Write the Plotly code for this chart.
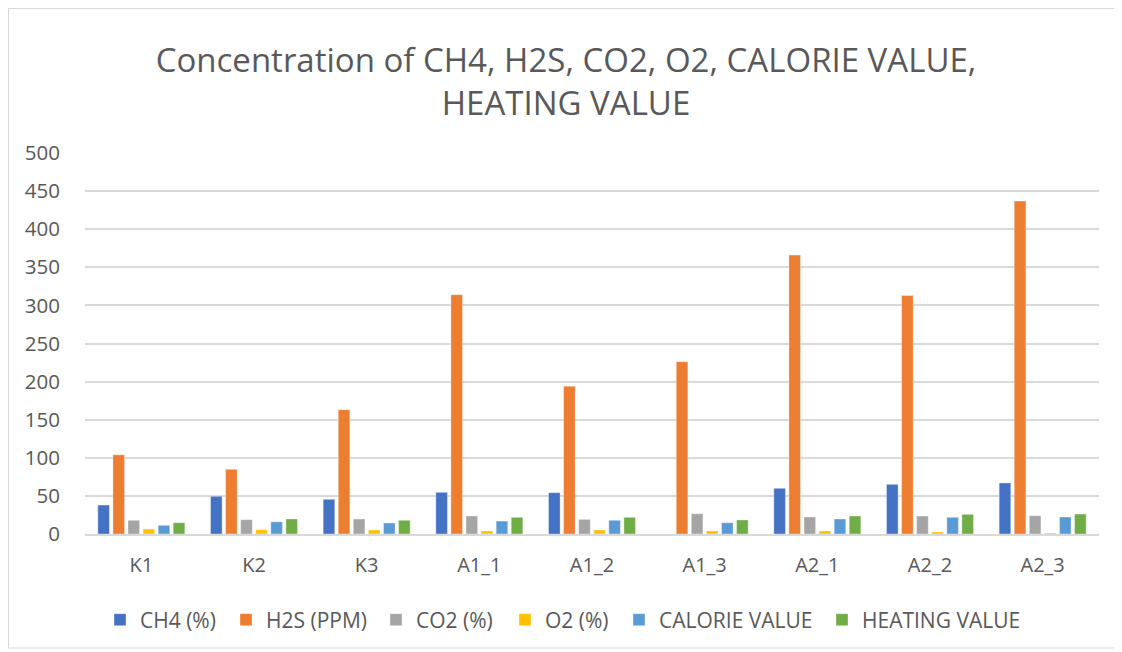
import plotly.graph_objects as go

categories = ["K1", "K2", "K3", "A1_1", "A1_2", "A1_3", "A2_1", "A2_2", "A2_3"]
ch4 = [38, 49.5, 45.5, 54.7, 54.2, 0, 60, 65.2, 67]
h2s = [104, 85, 163, 314, 194, 226, 366, 313, 437]
co2 = [18, 18.8, 19.7, 23.6, 19.2, 26.6, 22.3, 23.6, 24]
o2 = [6.5, 5.6, 5.2, 4, 5.2, 4, 4, 2.6, 1.3]
calorie = [11.4, 16, 14.4, 17, 18, 14.8, 19.7, 21.9, 22.3]
heating = [14.8, 19.7, 18, 21.9, 21.9, 18.4, 23.6, 25.8, 26.2]

series_names = ["CH4 (%)", "H2S (PPM)", "CO2 (%)", "O2 (%)", "CALORIE VALUE", "HEATING VALUE"]
series_values = [ch4, h2s, co2, o2, calorie, heating]
colors = ["#4472C4", "#ED7D31", "#A5A5A5", "#FFC000", "#5B9BD5", "#70AD47"]

FONT = "Open Sans, Liberation Sans, Arial, sans-serif"
GREY = "#595959"

# page offset of 8px (body margin) is compensated: figure coords = screen - 8
W, H = 1114, 644
ML, MR, MT, MB = 77, 23, 145, 118
pw, ph = W - ML - MR, H - MT - MB

def px_x(p):
    return (p - ML) / pw

def px_y(p):
    return (H - MB - p) / ph

# legend text start positions (figure px)
legend_text_x = [134, 260, 410, 539, 653, 856]
legend_keys = ["legend", "legend2", "legend3", "legend4", "legend5", "legend6"]

fig = go.Figure()
for name, vals, c, lk in zip(series_names, series_values, colors, legend_keys):
    fig.add_trace(go.Bar(x=categories, y=vals, name=name, legend=lk, showlegend=True,
                         marker=dict(color=c, line=dict(width=0.6, color="rgba(255,255,255,0.6)"))))

legends = {}
for lk, tx in zip(legend_keys, legend_text_x):
    legends[lk] = dict(orientation="h", x=px_x(tx - 42), xanchor="left", y=px_y(612), yanchor="middle",
                       font=dict(size=21, color=GREY, family=FONT), bgcolor="rgba(0,0,0,0)")

fig.update_layout(
    width=W, height=H,
    margin=dict(l=ML, r=MR, t=MT, b=MB),
    paper_bgcolor="white", plot_bgcolor="white",
    showlegend=True,
    barmode="group", bargap=0.197, bargroupgap=0.23,
    font=dict(family=FONT, color=GREY),
    title=dict(text="Concentration of CH4, H2S, CO2, O2, CALORIE VALUE,<br>HEATING VALUE",
               x=px_x(558), xref="paper", xanchor="center", y=1 - 64 / H, yanchor="middle",
               font=dict(size=33, color=GREY, family=FONT)),
    xaxis=dict(showgrid=False, showline=True, linecolor="#d9d9d9", linewidth=1.5,
               tickfont=dict(size=20, color=GREY, family=FONT), ticks="", ticklabelstandoff=12),
    yaxis=dict(range=[0, 500], dtick=50, showgrid=True, gridcolor="#d9d9d9", gridwidth=1.5,
               zeroline=False, showline=False, tickfont=dict(size=20.5, color=GREY, family=FONT),
               ticks="", ticklabelstandoff=24),
    shapes=[dict(type="rect", xref="paper", yref="paper",
                 x0=px_x(0.5), x1=px_x(1107), y0=px_y(640), y1=px_y(0.5),
                 line=dict(color="#d9d9d9", width=1.2), fillcolor="rgba(0,0,0,0)", layer="below")],
    **legends,
)

fig.write_html("out.html")
